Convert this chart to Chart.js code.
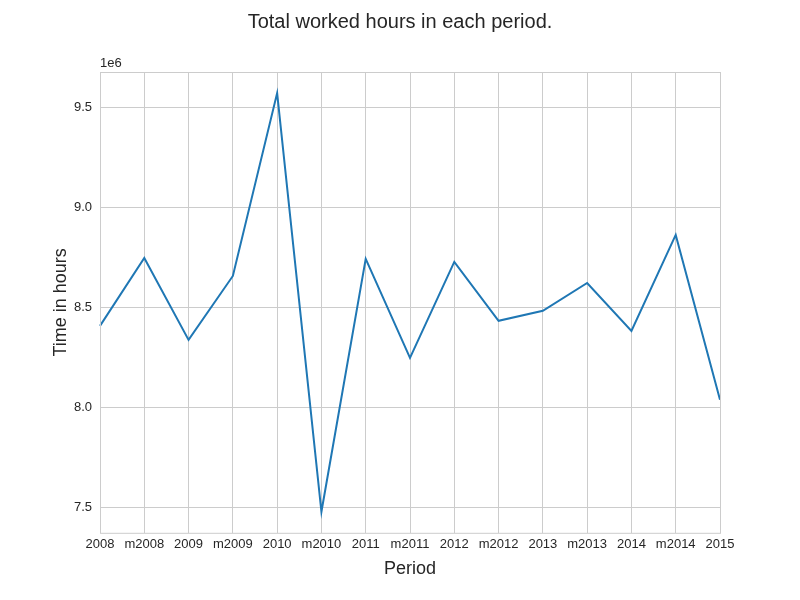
<!DOCTYPE html>
<html>
<head>
<meta charset="utf-8">
<script src="https://cdn.jsdelivr.net/npm/chart.js@4/dist/chart.umd.min.js"></script>
<style>
  html, body { margin: 0; padding: 0; background: #fff; }
  #wrap { width: 800px; height: 600px; }
</style>
</head>
<body>
<div id="wrap"><canvas id="chart"></canvas></div>
<script>
const periods = ['2008','m2008','2009','m2009','2010','m2010','2011','m2011','2012','m2012','2013','m2013','2014','m2014','2015'];
const hours = [8408000, 8747000, 8338000, 8657000, 9570000, 7480000, 8742000, 8248000, 8727000, 8433000, 8483000, 8622000, 8383000, 8862000, 8039000];

const font = '"Liberation Sans", Arial, sans-serif';

// frame, offset label and figure title, like matplotlib
const framePlugin = {
  id: 'frame',
  afterDraw(chart) {
    const a = chart.chartArea, c = chart.ctx;
    c.save();
    c.strokeStyle = '#cccccc';
    c.lineWidth = 1;
    c.strokeRect(a.left + 0.5, a.top + 0.5, a.right - a.left, a.bottom - a.top);
    c.fillStyle = '#262626';
    c.font = '13px ' + font;
    c.textBaseline = 'bottom';
    c.fillText('1e6', a.left, a.top - 2);
    c.font = '20px ' + font;
    c.textAlign = 'center';
    c.textBaseline = 'middle';
    c.fillText('Total worked hours in each period.', chart.width / 2, 22);
    c.restore();
  }
};

new Chart(document.getElementById('chart'), {
  type: 'line',
  data: {
    labels: periods,
    datasets: [{
      data: hours,
      borderColor: '#1f77b4',
      borderWidth: 2,
      pointRadius: 0,
      tension: 0,
      fill: false
    }]
  },
  options: {
    responsive: true,
    maintainAspectRatio: false,
    animation: false,
    layout: { padding: { top: 72, right: 80, bottom: 16, left: 50 } },
    plugins: {
      legend: { display: false },
      tooltip: { enabled: false }
    },
    scales: {
      x: {
        type: 'category',
        offset: false,
        grid: { color: '#cccccc', drawTicks: false },
        border: { display: false },
        ticks: { color: '#262626', font: { family: font, size: 13 }, maxRotation: 0, autoSkip: false, padding: 4 },
        title: { display: true, text: 'Period', color: '#262626', font: { family: font, size: 18 }, padding: { top: 2 } }
      },
      y: {
        min: 7375000,
        max: 9675000,
        afterFit(scale) { scale.width = 50; },
        afterBuildTicks(scale) {
          scale.ticks = [7500000, 8000000, 8500000, 9000000, 9500000].map(v => ({ value: v }));
        },
        grid: { color: '#cccccc', drawTicks: false },
        border: { display: false },
        ticks: {
          color: '#262626',
          font: { family: font, size: 13 },
          padding: 8,
          callback: v => (v / 1e6).toFixed(1)
        },
        title: { display: true, text: 'Time in hours', color: '#262626', font: { family: font, size: 18 }, padding: 0 }
      }
    }
  },
  plugins: [framePlugin]
});
</script>
</body>
</html>
